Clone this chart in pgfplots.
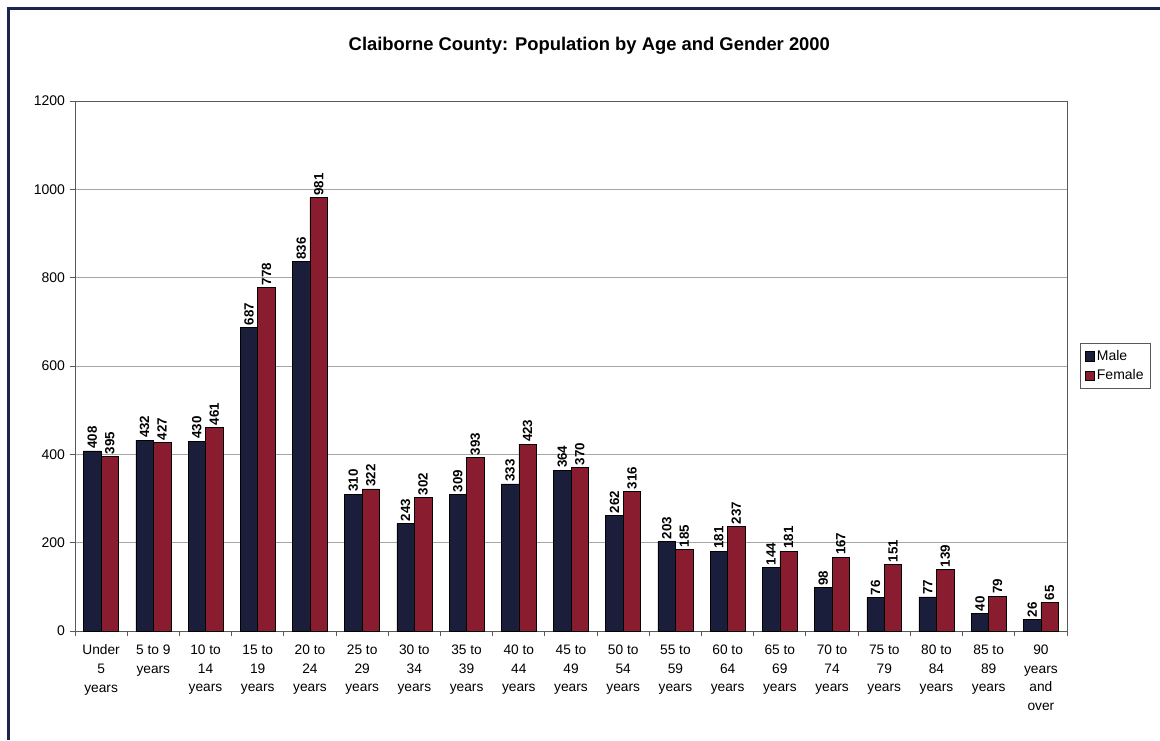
\documentclass[border=0pt]{standalone}
\usepackage{fontspec}
\setmainfont{Liberation Sans}
\usepackage{pgfplots}
\pgfplotsset{compat=1.18}
\definecolor{malec}{HTML}{1B1E3A}
\definecolor{femalec}{HTML}{8A1C30}
\definecolor{framec}{HTML}{1E2452}
\begin{document}
\begin{tikzpicture}[x=1pt,y=1pt]
% page area and outer frame (1 px = 0.75 pt)
\fill[white] (0,0) rectangle (870,555);
\useasboundingbox (0,0) rectangle (870,555);
\draw[framec, line width=1.6pt] (6.4,0) -- (6.4,548.6) -- (870,548.6);
\node[font=\bfseries\fontsize{13.8}{16}\selectfont] at (442,521) {Claiborne County: Population by Age and Gender 2000};
\begin{axis}[
  at={(56.25pt,81.75pt)}, anchor=south west,
  scale only axis, width=744pt, height=397.5pt,
  ymin=0, ymax=1200, ytick={0,200,...,1200},
  xmin=-0.5, xmax=18.5,
  xtick={0,...,18},
  xtick pos=bottom, ytick pos=left,
  major x tick style={draw=none},
  minor xtick={-0.5,0.5,...,18.5},
  tick align=outside,
  major tick length=4pt, minor tick length=4pt,
  axis line style={gray!70!black, line width=0.7pt},
  every tick/.style={gray!70!black, line width=0.7pt},
  ymajorgrids, grid style={gray!70, line width=0.6pt},
  yticklabel style={font=\fontsize{10.5}{12}\selectfont},
  /pgf/number format/assume math mode=true,
  /pgf/number format/1000 sep={},
  xticklabels={{Under\\5\\years},{5 to 9\\years},{10 to\\14\\years},{15 to\\19\\years},{20 to\\24\\years},{25 to\\29\\years},{30 to\\34\\years},{35 to\\39\\years},{40 to\\44\\years},{45 to\\49\\years},{50 to\\54\\years},{55 to\\59\\years},{60 to\\64\\years},{65 to\\69\\years},{70 to\\74\\years},{75 to\\79\\years},{80 to\\84\\years},{85 to\\89\\years},{90\\years\\and\\over}},
  xticklabel style={align=center, font=\fontsize{10.3}{13.9}\selectfont, anchor=north, yshift=-3pt},
  ybar=0pt, bar width=0.335,
  nodes near coords,
  every node near coord/.append style={rotate=90, anchor=west, font=\bfseries\fontsize{10}{12}\selectfont, inner sep=1.5pt, black},
  legend style={at={(1.0135,0.5)}, anchor=west, draw=gray!70!black, font=\fontsize{10.5}{12}\selectfont, row sep=1.5pt, inner xsep=3pt, inner ysep=3pt},
  legend cell align=left,
  legend image code/.code={\draw[#1, draw=black] (0pt,-3.4pt) rectangle (6.8pt,3.4pt);},
  clip=false,
]
\addplot[fill=malec, draw=black, bar shift=-0.1675] coordinates {
(0,408) (1,432) (2,430) (3,687) (4,836) (5,310) (6,243) (7,309) (8,333) (9,364)
(10,262) (11,203) (12,181) (13,144) (14,98) (15,76) (16,77) (17,40) (18,26)};
\addplot[fill=femalec, draw=black, bar shift=0.1675] coordinates {
(0,395) (1,427) (2,461) (3,778) (4,981) (5,322) (6,302) (7,393) (8,423) (9,370)
(10,316) (11,185) (12,237) (13,181) (14,167) (15,151) (16,139) (17,79) (18,65)};
\legend{Male,Female}
\end{axis}
\end{tikzpicture}
\end{document}
